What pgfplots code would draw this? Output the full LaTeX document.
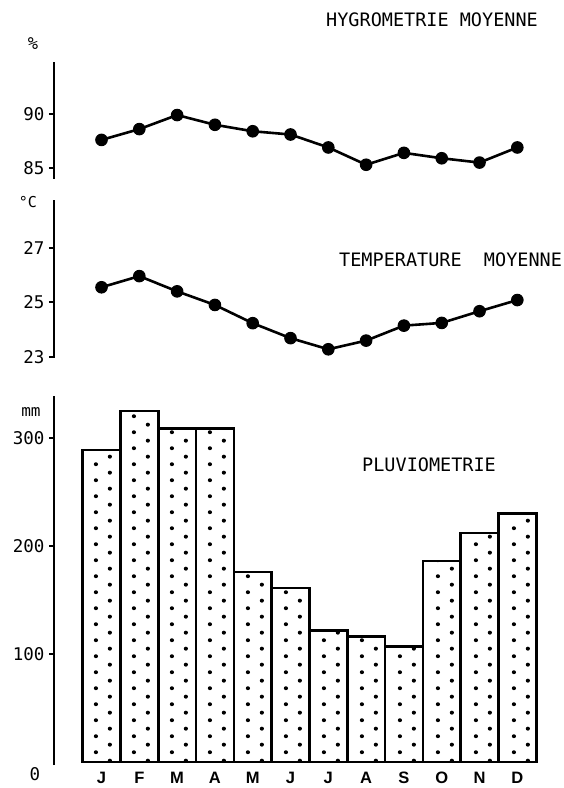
\documentclass[border=0pt]{standalone}
\usepackage{fontspec}
\usepackage{pgfplots}
\pgfplotsset{compat=1.18}
\usetikzlibrary{patterns}
\newfontfamily\mono{DejaVu Sans Mono}
\newfontfamily\msans{Liberation Sans}

\pgfdeclarepatternformonly{bardots}{\pgfqpoint{0pt}{0pt}}{\pgfqpoint{37.8pt}{16pt}}{\pgfqpoint{37.8pt}{16pt}}{%
  \pgfpathcircle{\pgfqpoint{21pt}{4pt}}{2.1pt}%
  \pgfpathcircle{\pgfqpoint{35pt}{12pt}}{2.1pt}%
  \pgfusepath{fill}}

\pgfplotsset{
  base/.style={
    x=37.8pt, xmin=-1.257, xmax=11.7,
    axis y line=left,
    axis line style={-, line width=2.8pt},
    tick style={line width=1.8pt, black},
    major tick length=5pt, tick align=outside,
    yticklabel style={font=\mono\fontsize{17.5}{17.5}\selectfont, xshift=-1pt},
    /pgf/number format/assume math mode=true,
    anchor=south west, clip=false,
  },
  lineplot/.style={black, line width=2.6pt, mark=*, mark size=5.8pt, mark options={fill=black, line width=1pt}},
}

\begin{document}
\begin{tikzpicture}
\path[use as bounding box] (0,0) rectangle (564pt,788pt);

% Hygrometrie
\begin{axis}[base, axis x line=none, at={(54pt,609pt)}, y=10.8pt, ymin=83.98, ymax=94.8, ytick={85,90}]
\addplot[lineplot] coordinates {
(0,87.6) (1,88.6) (2,89.9) (3,89.0) (4,88.4) (5,88.1)
(6,86.9) (7,85.3) (8,86.4) (9,85.9) (10,85.5) (11,86.9)};
\end{axis}

% Temperature
\begin{axis}[base, axis x line=none, at={(54pt,430pt)}, y=27.2pt, ymin=22.95, ymax=28.75, ytick={23,25,27}]
\addplot[lineplot] coordinates {
(0,25.55) (1,25.96) (2,25.40) (3,24.90) (4,24.23) (5,23.68)
(6,23.27) (7,23.59) (8,24.14) (9,24.24) (10,24.67) (11,25.08)};
\end{axis}

% Pluviometrie
\begin{axis}[base, at={(54pt,22.76pt)}, y=1.08pt, ymin=-3, ymax=339,
  axis x line=bottom, x axis line style={draw=none},
  xtick={0,...,11}, xticklabels={J,F,M,A,M,J,J,A,S,O,N,D},
  major x tick style={draw=none},
  xticklabel style={font=\msans\bfseries\fontsize{16.5}{16.5}\selectfont, anchor=base, inner sep=0pt, yshift=-15.5pt},
  ytick={100,200,300}]
\addplot[ybar, bar width=37.8pt, draw=black, line width=2.6pt, pattern=bardots] coordinates {
(0,289) (1,325) (2,309) (3,309) (4,176) (5,161)
(6,122) (7,116) (8,107) (9,186) (10,212) (11,230)};
\end{axis}

% texts
\node[font=\mono\fontsize{18.5}{18.5}\selectfont, anchor=base west, inner sep=0] at (326pt,761pt) {HYGROMETRIE MOYENNE};
\node[font=\mono\fontsize{18.5}{18.5}\selectfont, anchor=base west, inner sep=0] at (339pt,521pt) {TEMPERATURE\ \ MOYENNE};
\node[font=\mono\fontsize{18.5}{18.5}\selectfont, anchor=base west, inner sep=0] at (362pt,316pt) {PLUVIOMETRIE};
\node[font=\mono\fontsize{17}{17}\selectfont, anchor=base, inner sep=0] at (33pt,738pt) {\%};
\node[font=\mono\fontsize{15}{15}\selectfont, anchor=base, inner sep=0] at (28pt,580pt) {°C};
\node[font=\mono\fontsize{16}{16}\selectfont, anchor=base, inner sep=0] at (31pt,371pt) {mm};
\node[font=\mono\fontsize{17.5}{17.5}\selectfont, anchor=base, inner sep=0] at (35pt,7pt) {0};
\end{tikzpicture}
\end{document}
